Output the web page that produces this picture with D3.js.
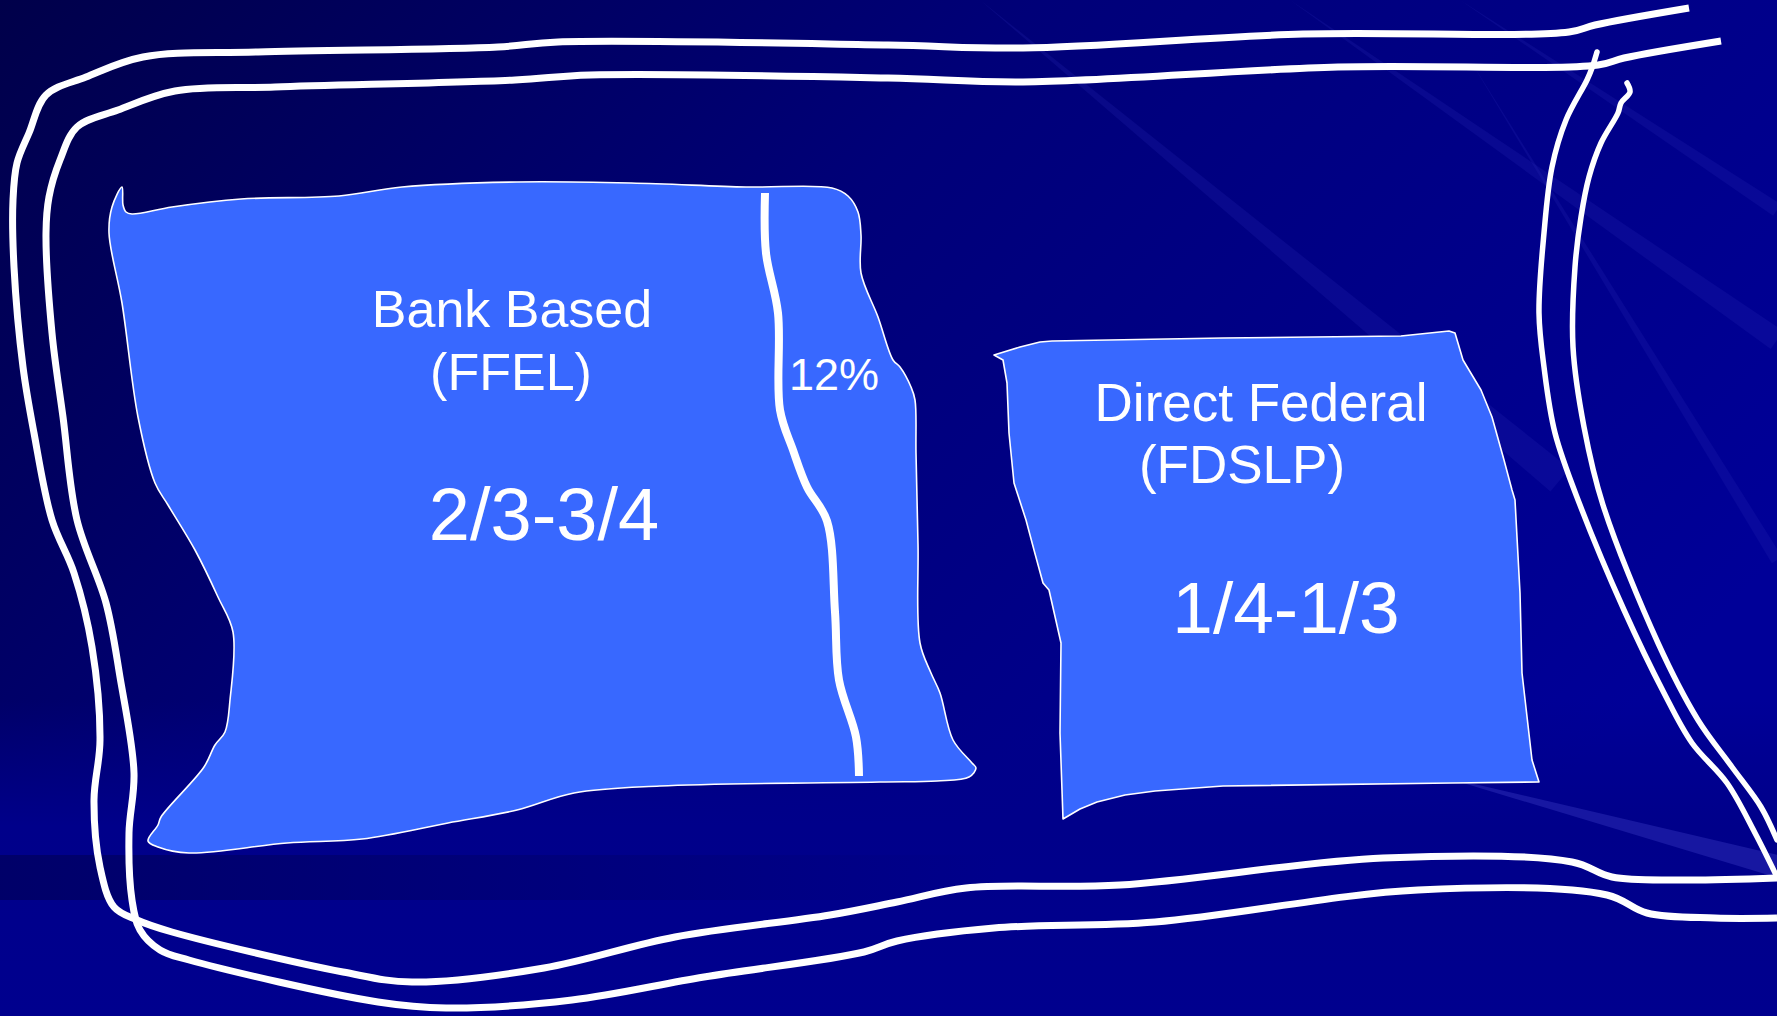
<!DOCTYPE html>
<html>
<head>
<meta charset="utf-8">
<script src="https://cdn.jsdelivr.net/npm/d3@7"></script>
<style>
  html, body { margin: 0; padding: 0; background: #000070; overflow: hidden; }
  svg { display: block; }
</style>
</head>
<body>
<div id="slide"></div>
<script>
// market share of student loan programs
const bankLabel = ["Bank Based", "(FFEL)"];
const bankShare = "2/3-3/4";
const bankSplitShare = "12%";
const directLabel = ["Direct Federal", "(FDSLP)"];
const directShare = "1/4-1/3";

// hand drawn outlines, in picture units (1777 x 1016)
const bankOutline = [[122,187],[123,205],[126,212],[132,214],[172,207],[241,199],[339,196],[402,187],[517,182],[631,183],[746,187],[832,188],[848,196],[858,212],[861,235],[861,273],[878,317],[893,360],[900,367],[911,387],[915,400],[916,453],[918,544],[920,643],[931,673],[940,693],[953,740],[972,763],[976,768],[969,777],[937,781],[880,782],[660,786],[574,793],[517,810],[448,823],[362,839],[287,843],[189,853],[158,847],[148,841],[158,825],[161,817],[204,767],[215,745],[225,732],[230,700],[233,632],[218,597],[195,550],[168,505],[155,483],[138,417],[122,303],[109,233],[112,207]];
const directOutline = [[994,355],[1003,360],[1007,383],[1009,433],[1014,483],[1026,520],[1034,550],[1043,583],[1049,590],[1061,643],[1060,733],[1063,819],[1080,809],[1097,802],[1125,795],[1155,791],[1223,786],[1452,783],[1539,782],[1532,760],[1522,673],[1520,593],[1515,500],[1512,490],[1504,460],[1492,417],[1481,390],[1463,360],[1455,333],[1449,331],[1401,336],[1223,338],[1052,341],[1040,342],[1020,347]];
const splitLine = [[765,193],[766,253],[778,313],[780,410],[793,450],[807,487],[827,521],[835,612],[839,680],[856,737],[859,776]];
const loopOuter = [[1689,8],[1595,25],[1569,32],[1303,34],[1023,48],[888,45],[558,42],[498,47],[258,52],[143,57],[86,77],[46,95],[29,133],[17,163],[13,200],[14,267],[23,367],[34,433],[52,520],[74,573],[92,647],[100,740],[94,800],[100,867],[114,907],[137,920],[172,932],[343,972],[412,982],[544,968],[675,937],[830,915],[897,902],[966,888],[1120,885],[1383,858],[1572,862],[1612,877],[1681,880],[1777,878]];
const loopInner = [[1721,41],[1624,58],[1598,65],[1338,67],[1023,82],[888,78],[590,75],[515,80],[275,87],[175,91],[118,110],[77,127],[60,160],[49,197],[46,233],[52,333],[63,417],[77,520],[106,603],[120,677],[134,773],[129,833],[132,900],[140,930],[160,950],[189,960],[378,1002],[446,1008],[572,1000],[704,977],[864,952],[897,941],[994,928],[1155,922],[1418,890],[1607,895],[1647,913],[1715,918],[1777,918]];
const rightLineA = [[1597,52],[1592,68],[1587,80],[1566,120],[1552,167],[1544,233],[1539,313],[1544,367],[1555,433],[1580,505],[1624,610],[1664,693],[1692,743],[1727,783],[1755,833],[1777,877]];
const rightLineB = [[1627,83],[1630,92],[1621,103],[1618,113],[1601,143],[1589,177],[1581,217],[1575,267],[1573,347],[1584,427],[1603,505],[1658,643],[1698,720],[1732,767],[1761,807],[1777,840]];

// faint background streaks: start, end, width
const streaks = [[980,0,1560,480,30],[1290,0,1777,340,22],[1460,0,1777,210,14],[1470,60,1777,560,12]];
const brightStreak = [1440,776,1777,866,22];

const W = 1777, H = 1016;

var x = d3.scaleLinear().domain([0, 1777]).range([0, W]);
var y = d3.scaleLinear().domain([0, 1016]).range([0, H]);

var svg = d3.select("#slide").append("svg")
    .attr("width", W)
    .attr("height", H);

var defs = svg.append("defs");
var bg = defs.append("linearGradient")
    .attr("id", "bg")
    .attr("x1", 0).attr("y1", 0).attr("x2", 1).attr("y2", 0.55);
bg.append("stop").attr("offset", 0).attr("stop-color", "#00004a");
bg.append("stop").attr("offset", 0.45).attr("stop-color", "#000078");
bg.append("stop").attr("offset", 1).attr("stop-color", "#000098");

var low = defs.append("linearGradient")
    .attr("id", "low")
    .attr("x1", 0).attr("y1", 0).attr("x2", 0).attr("y2", 1);
low.append("stop").attr("offset", 0).attr("stop-color", "#000088").attr("stop-opacity", 0);
low.append("stop").attr("offset", 0.4).attr("stop-color", "#00008a").attr("stop-opacity", 1);
low.append("stop").attr("offset", 1).attr("stop-color", "#00008e").attr("stop-opacity", 1);

var band = defs.append("linearGradient")
    .attr("id", "band")
    .attr("x1", 0).attr("y1", 0).attr("x2", 1).attr("y2", 0);
band.append("stop").attr("offset", 0).attr("stop-color", "#00005a").attr("stop-opacity", 0.7);
band.append("stop").attr("offset", 1).attr("stop-color", "#00005a").attr("stop-opacity", 0);

svg.append("rect")
    .attr("width", W)
    .attr("height", H)
    .attr("fill", "url(#bg)");

svg.append("rect")
    .attr("x", 0)
    .attr("y", y(700))
    .attr("width", W)
    .attr("height", H - y(700))
    .attr("fill", "url(#low)");

// darker band lower left
svg.append("rect")
    .attr("x", 0)
    .attr("y", y(855))
    .attr("width", x(1000))
    .attr("height", y(45))
    .attr("fill", "url(#band)");

function wedge(s) {
    var dx = s[2] - s[0], dy = s[3] - s[1];
    var len = Math.sqrt(dx*dx + dy*dy);
    var nx = -dy/len*s[4]/2, ny = dx/len*s[4]/2;
    return "M" + x(s[0]) + "," + y(s[1]) +
        "L" + x(s[2]+nx) + "," + y(s[3]+ny) +
        "L" + x(s[2]-nx) + "," + y(s[3]-ny) + "Z";
}

svg.selectAll("path.streak")
    .data(streaks)
    .enter().append("path")
    .attr("class", "streak")
    .attr("d", wedge)
    .attr("fill", "#2a2ab4")
    .attr("opacity", 0.22);

svg.append("path")
    .attr("d", wedge(brightStreak))
    .attr("fill", "#2a2ab4")
    .attr("opacity", 0.55);

var smooth = d3.line()
    .x(function(d) { return x(d[0]); })
    .y(function(d) { return y(d[1]); })
    .curve(d3.curveCatmullRom.alpha(0.5));

var roundShape = d3.line()
    .x(function(d) { return x(d[0]); })
    .y(function(d) { return y(d[1]); })
    .curve(d3.curveCatmullRomClosed.alpha(0.5));

var sharpShape = d3.line()
    .x(function(d) { return x(d[0]); })
    .y(function(d) { return y(d[1]); })
    .curve(d3.curveLinearClosed);

// the two loops around everything
[loopOuter, loopInner].forEach(function(pts) {
    svg.append("path")
        .attr("d", smooth(pts))
        .attr("fill", "none")
        .attr("stroke", "#ffffff")
        .attr("stroke-width", 7)
        .attr("stroke-linejoin", "round");
});
[rightLineA, rightLineB].forEach(function(pts) {
    svg.append("path")
        .attr("d", smooth(pts))
        .attr("fill", "none")
        .attr("stroke", "#ffffff")
        .attr("stroke-width", 5.5)
        .attr("stroke-linecap", "round");
});

// blocks
svg.append("path")
    .attr("d", roundShape(bankOutline))
    .attr("fill", "#3868ff")
    .attr("stroke", "#ffffff")
    .attr("stroke-width", 1.6);

svg.append("path")
    .attr("d", sharpShape(directOutline))
    .attr("fill", "#3868ff")
    .attr("stroke", "#ffffff")
    .attr("stroke-width", 1.6)
    .attr("stroke-linejoin", "round");

svg.append("path")
    .attr("d", smooth(splitLine))
    .attr("fill", "none")
    .attr("stroke", "#ffffff")
    .attr("stroke-width", 8);

function label(txt, cx, base, size) {
    svg.append("text")
        .attr("x", x(cx))
        .attr("y", y(base))
        .attr("text-anchor", "middle")
        .attr("font-family", "'Liberation Sans', Arial, Helvetica, sans-serif")
        .attr("font-size", size)
        .attr("fill", "#ffffff")
        .text(txt);
}

label(bankLabel[0], 512, 327, 52);
label(bankLabel[1], 511, 390, 52);
label(bankShare, 544, 540, 74);
label(bankSplitShare, 834, 390, 45);
label(directLabel[0], 1261, 421, 53);
label(directLabel[1], 1242, 483, 53);
label(directShare, 1286, 633, 73);
</script>
</body>
</html>
